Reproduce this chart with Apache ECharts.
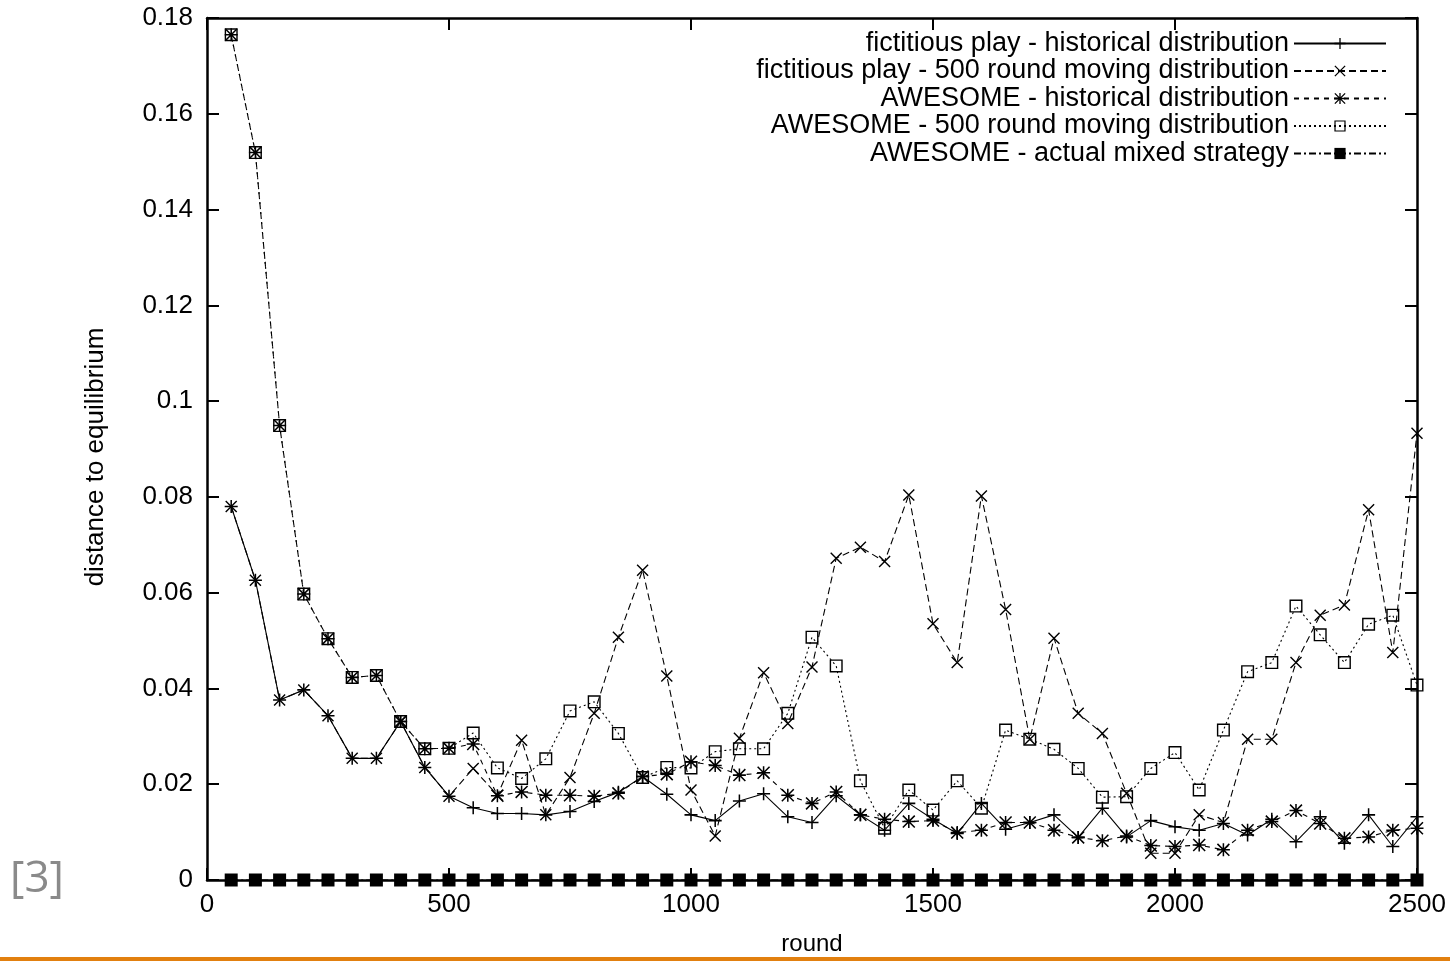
<!DOCTYPE html>
<html>
<head>
<meta charset="utf-8">
<script src="https://cdn.jsdelivr.net/npm/echarts@6/dist/echarts.min.js"></script>
<style>
  html, body { margin: 0; padding: 0; background: #fff; }
  #chart { width: 1450px; height: 961px; }
</style>
</head>
<body>
<div id="chart"></div>
<script>
// Sampling rounds (every 50 rounds)
const rounds = [50,100,150,200,250,300,350,400,450,500,550,600,650,700,750,800,850,900,950,1000,
  1050,1100,1150,1200,1250,1300,1350,1400,1450,1500,1550,1600,1650,1700,1750,1800,1850,1900,1950,2000,
  2050,2100,2150,2200,2250,2300,2350,2400,2450,2500];

const seriesNames = [
  'fictitious play - historical distribution',
  'fictitious play - 500 round moving distribution',
  'AWESOME - historical distribution',
  'AWESOME - 500 round moving distribution',
  'AWESOME - actual mixed strategy'
];

// distance to equilibrium per round
const fpHistorical = [0.0780,0.0626,0.0376,0.0397,0.0343,0.0254,0.0254,0.0331,0.0235,0.0175,
  0.0151,0.0139,0.0139,0.0136,0.0143,0.0164,0.0183,0.0216,0.0179,0.0136,
  0.0124,0.0165,0.0180,0.0132,0.0120,0.0176,0.0136,0.0104,0.0160,0.0127,
  0.0097,0.0160,0.0106,0.0120,0.0136,0.0089,0.0150,0.0090,0.0124,0.0111,
  0.0104,0.0118,0.0094,0.0127,0.0080,0.0132,0.0077,0.0136,0.0070,0.0132];

const fpMoving = [0.0780,0.0626,0.0376,0.0397,0.0343,0.0254,0.0254,0.0331,0.0235,0.0175,
  0.0233,0.0177,0.0292,0.0136,0.0214,0.0348,0.0507,0.0647,0.0426,0.0188,
  0.0092,0.0296,0.0433,0.0327,0.0445,0.0672,0.0695,0.0665,0.0804,0.0535,
  0.0454,0.0802,0.0565,0.0294,0.0505,0.0348,0.0306,0.0181,0.0056,0.0056,
  0.0136,0.0120,0.0294,0.0294,0.0454,0.0553,0.0574,0.0773,0.0475,0.0933];

const awHistorical = [0.1765,0.1519,0.0949,0.0597,0.0504,0.0423,0.0427,0.0331,0.0274,0.0275,
  0.0284,0.0176,0.0184,0.0177,0.0177,0.0175,0.0181,0.0216,0.0221,0.0247,
  0.0239,0.0219,0.0224,0.0177,0.0160,0.0184,0.0136,0.0127,0.0122,0.0124,
  0.0099,0.0104,0.0120,0.0120,0.0104,0.0089,0.0082,0.0092,0.0072,0.0070,
  0.0073,0.0063,0.0104,0.0122,0.0145,0.0118,0.0087,0.0090,0.0104,0.0108];

const awMoving = [0.1765,0.1519,0.0949,0.0597,0.0504,0.0423,0.0427,0.0331,0.0274,0.0275,
  0.0307,0.0234,0.0212,0.0253,0.0353,0.0372,0.0306,0.0214,0.0235,0.0234,
  0.0268,0.0274,0.0274,0.0348,0.0507,0.0447,0.0207,0.0108,0.0188,0.0146,
  0.0207,0.0150,0.0313,0.0294,0.0273,0.0233,0.0173,0.0174,0.0233,0.0266,
  0.0188,0.0313,0.0435,0.0454,0.0572,0.0512,0.0454,0.0534,0.0553,0.0407];

const awActual = [0,0,0,0,0,0,0,0,0,0, 0,0,0,0,0,0,0,0,0,0, 0,0,0,0,0, 0,0,0,0,0,
  0,0,0,0,0, 0,0,0,0,0, 0,0,0,0,0, 0,0,0,0,0];

// point markers (filled outlines so they render crisply at any size)
const SYM_PLUS  = 'path://M5.3,0h1.4v12h-1.4zM0,5.3h12v1.4h-12z';
const SYM_CROSS = 'path://M0,1L1,0L12,11L11,12ZM11,0L12,1L1,12L0,11Z';
const SYM_STAR  = 'path://M5.3,0h1.4v12h-1.4zM0,5.3h12v1.4h-12zM0,1L1,0L12,11L11,12ZM11,0L12,1L1,12L0,11Z';
const SYM_BOX   = 'path://M0,0H12V12H0ZM1.3,1.3V10.7H10.7V1.3Z';

const FONT = 'Liberation Sans';

function pairs(values) {
  return rounds.map((r, i) => [r, values[i]]);
}

function lineSeries(name, values, symbol, size, dash) {
  return {
    name: name,
    type: 'line',
    data: pairs(values),
    xAxisIndex: 0,
    yAxisIndex: 0,
    symbol: symbol,
    symbolSize: size,
    showAllSymbol: true,
    clip: false,
    itemStyle: { color: '#000' },
    lineStyle: { color: '#000', width: 1.1, type: dash },
    emphasis: { disabled: true },
    silent: true
  };
}

const chart = echarts.init(document.getElementById('chart'), null, { renderer: 'canvas' });

const frameLine = { show: true, onZero: false, lineStyle: { color: '#000', width: 2.5 } };
const innerTick = { show: true, inside: true, length: 12, lineStyle: { color: '#000', width: 2 } };

chart.setOption({
  animation: false,
  backgroundColor: '#fff',
  grid: { left: 207, right: 33, top: 18, bottom: 81, containLabel: false },
  legend: {
    orient: 'vertical',
    right: 63,
    top: 30,
    padding: 0,
    align: 'right',
    itemWidth: 92,
    itemHeight: 14,
    itemGap: 0.5,
    selectedMode: false,
    textStyle: { fontFamily: FONT, fontSize: 27, color: '#000', lineHeight: 27 },
    data: seriesNames
  },
  xAxis: [
    {
      type: 'value', position: 'bottom', min: 0, max: 2500, interval: 500,
      axisLine: frameLine, axisTick: innerTick,
      axisLabel: { fontFamily: FONT, fontSize: 26, color: '#000', margin: 12,
        formatter: v => String(v) },
      splitLine: { show: false },
      name: 'round', nameLocation: 'middle', nameGap: 52,
      nameTextStyle: { fontFamily: FONT, fontSize: 24, color: '#000' }
    },
    {
      type: 'value', position: 'top', min: 0, max: 2500, interval: 500,
      axisLine: frameLine, axisTick: innerTick,
      axisLabel: { show: false }, splitLine: { show: false }
    }
  ],
  yAxis: [
    {
      type: 'value', position: 'left', min: 0, max: 0.18, interval: 0.02,
      axisLine: frameLine, axisTick: innerTick,
      axisLabel: {
        fontFamily: FONT, fontSize: 26, color: '#000', margin: 14,
        formatter: v => String(+v.toFixed(2))
      },
      splitLine: { show: false },
      name: 'distance to equilibrium', nameLocation: 'middle', nameRotate: 90, nameGap: 98,
      nameTextStyle: { fontFamily: FONT, fontSize: 26, color: '#000', padding: [0, 16, 0, 0] }
    },
    {
      type: 'value', position: 'right', min: 0, max: 0.18, interval: 0.02,
      axisLine: frameLine, axisTick: innerTick,
      axisLabel: { show: false }, splitLine: { show: false }
    }
  ],
  series: [
    lineSeries(seriesNames[0], fpHistorical, SYM_PLUS, 13, 'solid'),
    lineSeries(seriesNames[1], fpMoving, SYM_CROSS, 12, [7, 4]),
    lineSeries(seriesNames[2], awHistorical, SYM_STAR, 13, [5, 5]),
    lineSeries(seriesNames[3], awMoving, SYM_BOX, 13, [2, 3]),
    lineSeries(seriesNames[4], awActual, 'rect', 13, [7, 3, 2, 3])
  ],
  graphic: [
    {
      type: 'text', x: 10, y: 879, silent: true,
      style: { text: '[3]', font: '44px "Open Sans"', fill: '#8a8a8a', verticalAlign: 'middle' }
    },
    {
      type: 'rect', left: 0, top: 957, silent: true,
      shape: { width: 1450, height: 4 },
      style: { fill: '#e2800f' }
    }
  ]
});
</script>
</body>
</html>
